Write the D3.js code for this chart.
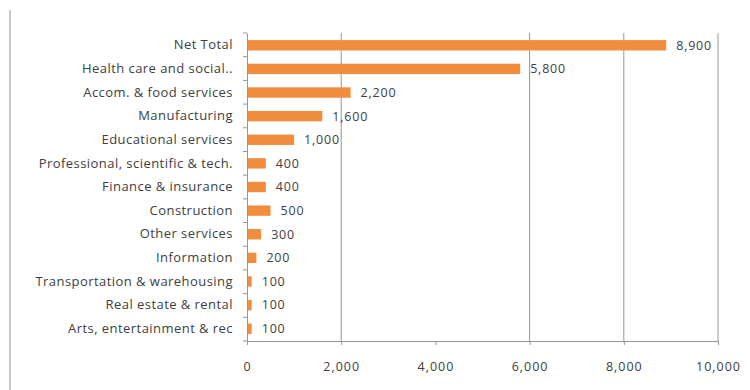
<!DOCTYPE html>
<html>
<head>
<meta charset="utf-8">
<script src="https://cdn.jsdelivr.net/npm/d3@7"></script>
<style>
  body { margin: 0; background: #fff; }
  svg { display: block; font-family: "Open Sans", sans-serif; }
</style>
</head>
<body>
<svg id="vis"></svg>
<script>
const BAR_COLOUR = 'rgb(243, 141, 62)';
const TEXT_COLOUR = 'rgb(64, 64, 64)';
const GRID_COLOUR = 'rgb(150, 150, 150)';

// chart data, top to bottom
var categories = [
    'Net Total', 'Health care and social..', 'Accom. & food services', 'Manufacturing',
    'Educational services', 'Professional, scientific & tech.', 'Finance & insurance',
    'Construction', 'Other services', 'Information', 'Transportation & warehousing',
    'Real estate & rental', 'Arts, entertainment & rec'
];
var values = [8900, 5800, 2200, 1600, 1000, 400, 400, 500, 300, 200, 100, 100, 100];
var xTicks = [0, 2000, 4000, 6000, 8000, 10000];
var gridValues = [2000, 6000, 8000, 10000]; // 4000 line is not drawn in the original

var width = 750, height = 390;
var plotLeft = 247, plotRight = 718, plotTop = 33, plotBottom = 341;

var svg = d3.select('#vis').attr('width', width).attr('height', height);

// frame line down the left edge
svg.append('line')
    .attr('x1', 10).attr('x2', 10).attr('y1', 10).attr('y2', height)
    .attr('stroke', 'rgb(200, 200, 200)').attr('stroke-width', 2);

var x = d3.scaleLinear().domain([0, 10000]).range([plotLeft, plotRight]);
var y = d3.scaleBand().domain(categories).range([plotTop, plotBottom]).paddingInner(0.56).paddingOuter(0.3);

// gridlines
svg.append('g').selectAll('line').data(gridValues).enter().append('line')
    .attr('x1', d => x(d)).attr('x2', d => x(d))
    .attr('y1', plotTop).attr('y2', plotBottom)
    .attr('stroke', GRID_COLOUR).attr('stroke-width', 1);

// bars
svg.append('g').selectAll('rect').data(values).enter().append('rect')
    .attr('x', x(0))
    .attr('y', (d, i) => y(categories[i]))
    .attr('width', d => x(d) - x(0))
    .attr('height', y.bandwidth())
    .attr('fill', BAR_COLOUR);

// value labels
svg.append('g').selectAll('text').data(values).enter().append('text')
    .attr('x', d => x(d) + 10)
    .attr('y', (d, i) => y(categories[i]) + y.bandwidth() / 2)
    .attr('dy', '0.35em')
    .attr('font-size', 12.5)
    .attr('letter-spacing', 0.8)
    .attr('fill', TEXT_COLOUR)
    .text(d => d3.format(',')(d));

// x axis
var xAxis = svg.append('g').attr('transform', 'translate(0,' + plotBottom + ')')
    .call(d3.axisBottom(x).tickValues(xTicks).tickFormat(d3.format(',')).tickSizeOuter(0).tickSize(4).tickPadding(17));
xAxis.select('.domain').attr('stroke', GRID_COLOUR);
xAxis.selectAll('.tick line').attr('stroke', GRID_COLOUR);
xAxis.selectAll('text').attr('font-size', 12.5).attr('letter-spacing', 1)
    .attr('fill', TEXT_COLOUR).attr('font-family', '"Open Sans", sans-serif');

// y axis, ticks sit between the categories
var yAxis = svg.append('g').attr('transform', 'translate(' + plotLeft + ',0)')
    .call(d3.axisLeft(y).tickSize(0).tickPadding(14).tickSizeOuter(0));
yAxis.select('.domain').attr('stroke', GRID_COLOUR);
yAxis.selectAll('text').attr('font-size', 13).attr('letter-spacing', 0.45)
    .attr('fill', TEXT_COLOUR).attr('font-family', '"Open Sans", sans-serif');

var bounds = d3.range(categories.length + 1).map(i => plotTop + i * (plotBottom - plotTop) / categories.length);
svg.append('g').selectAll('line').data(bounds).enter().append('line')
    .attr('x1', plotLeft - 4).attr('x2', plotLeft)
    .attr('y1', d => d).attr('y2', d => d)
    .attr('stroke', GRID_COLOUR);
</script>
</body>
</html>
